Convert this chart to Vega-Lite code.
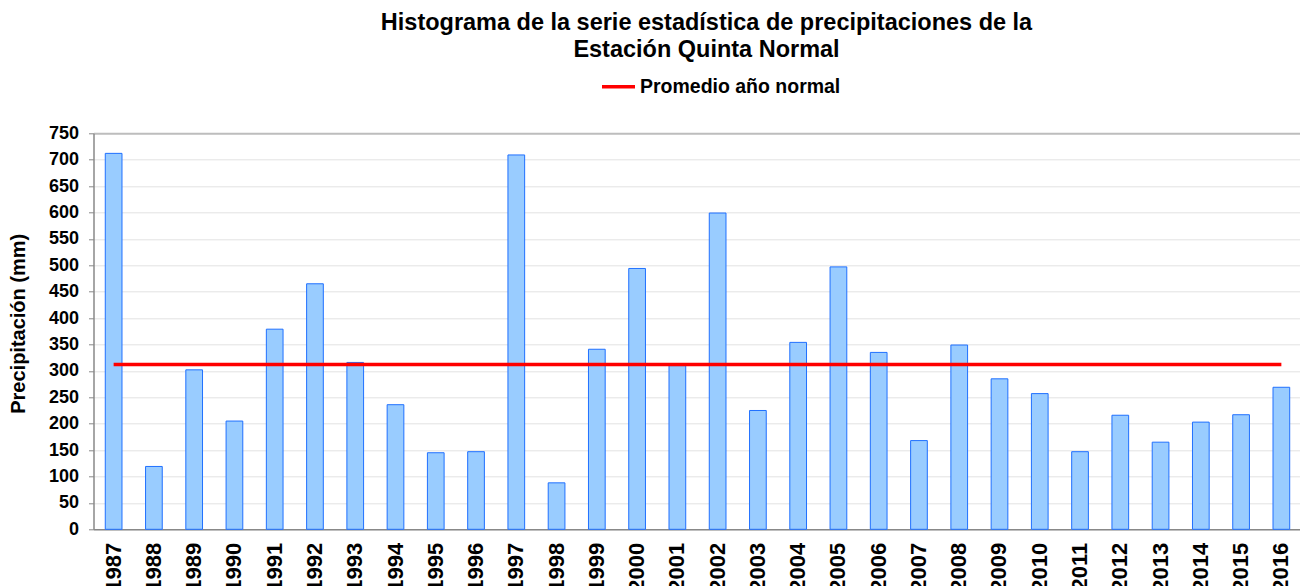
{
  "$schema": "https://vega.github.io/schema/vega-lite/v6.json",
  "width": 1208,
  "height": 396,
  "autosize": {"type": "none"},
  "padding": {"left": 93.5, "top": 133.3, "right": 0, "bottom": 57},
  "background": "white",
  "title": {
    "text": ["Histograma de la serie estadística de precipitaciones de la", "Estación Quinta Normal"],
    "font": "Liberation Sans",
    "fontSize": 23.5,
    "fontWeight": "bold",
    "color": "black",
    "anchor": "middle",
    "frame": "group",
    "dx": 9,
    "offset": 7,
    "lineHeight": 27
  },
  "data": {
    "values": [
      {"year": "1987", "mm": 712, "promedio": 312},
      {"year": "1988", "mm": 119, "promedio": 312},
      {"year": "1989", "mm": 302, "promedio": 312},
      {"year": "1990", "mm": 205, "promedio": 312},
      {"year": "1991", "mm": 379, "promedio": 312},
      {"year": "1992", "mm": 465, "promedio": 312},
      {"year": "1993", "mm": 316, "promedio": 312},
      {"year": "1994", "mm": 236, "promedio": 312},
      {"year": "1995", "mm": 145, "promedio": 312},
      {"year": "1996", "mm": 147, "promedio": 312},
      {"year": "1997", "mm": 709, "promedio": 312},
      {"year": "1998", "mm": 88, "promedio": 312},
      {"year": "1999", "mm": 341, "promedio": 312},
      {"year": "2000", "mm": 494, "promedio": 312},
      {"year": "2001", "mm": 310, "promedio": 312},
      {"year": "2002", "mm": 599, "promedio": 312},
      {"year": "2003", "mm": 225, "promedio": 312},
      {"year": "2004", "mm": 354, "promedio": 312},
      {"year": "2005", "mm": 497, "promedio": 312},
      {"year": "2006", "mm": 335, "promedio": 312},
      {"year": "2007", "mm": 168, "promedio": 312},
      {"year": "2008", "mm": 349, "promedio": 312},
      {"year": "2009", "mm": 285, "promedio": 312},
      {"year": "2010", "mm": 257, "promedio": 312},
      {"year": "2011", "mm": 147, "promedio": 312},
      {"year": "2012", "mm": 216, "promedio": 312},
      {"year": "2013", "mm": 165, "promedio": 312},
      {"year": "2014", "mm": 203, "promedio": 312},
      {"year": "2015", "mm": 217, "promedio": 312},
      {"year": "2016", "mm": 269, "promedio": 312}
    ]
  },
  "encoding": {
    "x": {
      "field": "year",
      "type": "ordinal",
      "scale": {"paddingInner": 0.585, "paddingOuter": 0.2925},
      "axis": {
        "title": null,
        "labelAngle": 270,
        "labelFont": "Liberation Sans",
        "labelFontSize": 22,
        "labelFontWeight": "bold",
        "labelColor": "black",
        "labelPadding": 13,
        "ticks": false,
        "tickSize": 0,
        "domainColor": "#888888",
        "domainWidth": 1.5,
        "grid": false
      }
    }
  },
  "layer": [
    {
      "mark": {"type": "bar", "fill": "#99ccff", "stroke": "#1f6fff", "strokeWidth": 1},
      "encoding": {
        "y": {
          "field": "mm",
          "type": "quantitative",
          "scale": {"domain": [0, 750], "nice": false},
          "axis": {
            "title": "Precipitación  (mm)",
            "values": [0, 50, 100, 150, 200, 250, 300, 350, 400, 450, 500, 550, 600, 650, 700, 750]
          }
        }
      }
    },
    {
      "mark": {"type": "line", "strokeWidth": 3.5},
      "encoding": {
        "y": {
          "field": "promedio",
          "type": "quantitative",
          "axis": {
            "title": "Precipitación  (mm)",
            "values": [0, 50, 100, 150, 200, 250, 300, 350, 400, 450, 500, 550, 600, 650, 700, 750]
          }
        },
        "color": {
          "datum": "Promedio año normal",
          "type": "nominal",
          "scale": {"range": ["#ff0000"]},
          "legend": {
            "title": null,
            "orient": "none",
            "legendX": 506.5,
            "legendY": -65,
            "padding": 0,
            "symbolType": "stroke",
            "symbolStrokeWidth": 3.5,
            "symbolSize": 1089,
            "labelOffset": 3,
            "labelLimit": 0,
            "labelFont": "Liberation Sans",
            "labelFontSize": 19.5,
            "labelFontWeight": "bold",
            "labelColor": "black"
          }
        }
      }
    }
  ],
  "config": {
    "view": {"stroke": null},
    "axisY": {
      "titleFont": "Liberation Sans",
      "titleFontSize": 20,
      "titleFontWeight": "bold",
      "titleColor": "black",
      "titleAngle": 270,
      "titleX": -75,
      "titleY": 190,
      "titleAlign": "center",
      "titleBaseline": "middle",
      "labelOverlap": false,
      "labelFont": "Liberation Sans",
      "labelFontSize": 18,
      "labelFontWeight": "bold",
      "labelColor": "black",
      "labelPadding": 10,
      "tickSize": 5,
      "tickColor": "#888888",
      "domainColor": "#888888",
      "domainWidth": 1.5,
      "grid": true,
      "gridColor": {"condition": {"test": "datum.value === 750", "value": "#bdbdbd"}, "value": "#e2e2e2"},
      "gridWidth": {"condition": {"test": "datum.value === 750", "value": 2}, "value": 1}
    }
  }
}
